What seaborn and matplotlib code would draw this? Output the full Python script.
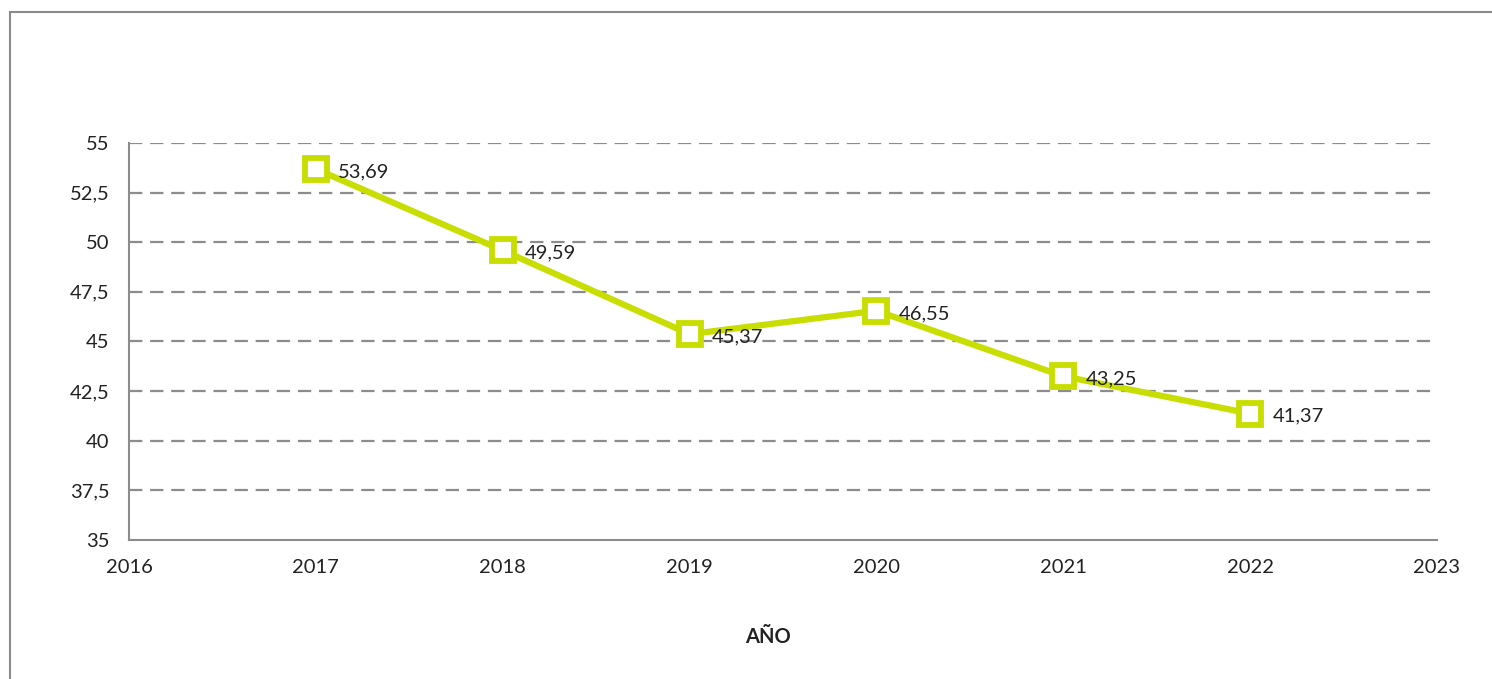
import pandas as pd
import numpy as np
import matplotlib
matplotlib.use('Agg')
import matplotlib.pyplot as plt
import seaborn as sns

years = [2017, 2018, 2019, 2020, 2021, 2022]
values = [53.69, 49.59, 45.37, 46.55, 43.25, 41.37]
labels = ['53,69', '49,59', '45,37', '46,55', '43,25', '41,37']
y_ticks = [35, 37.5, 40, 42.5, 45, 47.5, 50, 52.5, 55]
x_ticks = [2016, 2017, 2018, 2019, 2020, 2021, 2022, 2023]

sns.set_style('white')
plt.rcParams['font.family'] = ['Lato', 'DejaVu Sans']

df = pd.DataFrame({'AÑO': years, 'valor': values})
line_col = '#C8DE00'
gray = '#8C8C8C'

fig = plt.figure(figsize=(14.92, 6.79), dpi=100)
# outer chart frame (cut off at right and bottom as in the original)
fig.patches.append(plt.Rectangle((10 / 1492, -0.05), 1.2, 1 - 12 / 679 + 0.05,
                                 transform=fig.transFigure, fill=False,
                                 edgecolor='#8A8A8A', linewidth=1.5))
ax = fig.add_axes([129 / 1492, 1 - 540 / 679, (1437 - 129) / 1492, (540 - 143) / 679])

sns.lineplot(data=df, x='AÑO', y='valor', ax=ax, color=line_col, linewidth=4.5,
             marker='s', markersize=16, markerfacecolor='white',
             markeredgecolor=line_col, markeredgewidth=4.2, zorder=5)

for x, y, t in zip(years, values, labels):
    ax.annotate(t, (x, y), xytext=(16, -2), textcoords='offset points',
                ha='left', va='center', fontsize=14.5, color='#222222', zorder=6)

ax.set_xlim(2016, 2023)
ax.set_ylim(35, 55)
ax.set_xticks(x_ticks)
ax.set_xticklabels([str(v) for v in x_ticks])
ax.set_yticks(y_ticks)
ax.set_yticklabels([f'{v:g}'.replace('.', ',') for v in y_ticks])
ax.tick_params(axis='both', length=0, labelsize=14.5, colors='#222222')
ax.tick_params(axis='x', pad=14)
ax.tick_params(axis='y', pad=14)

for v in y_ticks[1:]:
    ax.axhline(v, color=gray, linestyle=(0, (6, 3.5)), linewidth=1.6, zorder=1)

for s in ['top', 'right']:
    ax.spines[s].set_visible(False)
for s in ['left', 'bottom']:
    ax.spines[s].set_color(gray)
    ax.spines[s].set_linewidth(1.5)

ax.set_ylabel('')
ax.set_xlabel('AÑO', fontsize=14.5, fontweight='bold', color='#222222')
ax.xaxis.set_label_coords((768 - 129) / (1437 - 129), -(627 - 540) / (540 - 143))

plt.savefig('out.png', dpi=100)
